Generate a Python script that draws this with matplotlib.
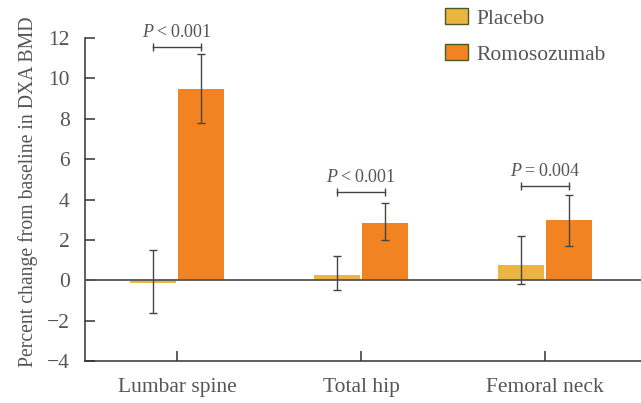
import matplotlib
matplotlib.use("Agg")
import matplotlib.pyplot as plt
import numpy as np
from matplotlib.patches import Patch

sites = ["Lumbar spine", "Total hip", "Femoral neck"]
placebo = [-0.12, 0.28, 0.78]
placebo_lo = [-1.6, -0.46, -0.18]
placebo_hi = [1.5, 1.19, 2.18]
romo = [9.49, 2.86, 3.0]
romo_lo = [7.79, 2.01, 1.68]
romo_hi = [11.2, 3.81, 4.2]
p_labels = ["<0.001", "<0.001", "=0.004"]
bracket_y = [11.57, 4.35, 4.68]

plt.rcParams["font.family"] = ["Liberation Serif", "DejaVu Serif"]
plt.rcParams["mathtext.fontset"] = "custom"
plt.rcParams["mathtext.rm"] = "Liberation Serif"
plt.rcParams["mathtext.it"] = "Liberation Serif:italic"
TXT = "#555555"
C_PLA = "#ECB441"
C_ROMO = "#F28322"
ERR = "#444444"

fig = plt.figure(figsize=(6.41, 4.03), dpi=100)
ax = fig.add_axes([0.1326, 0.1042, 0.8674, 0.8015])

x = np.arange(len(sites))
w = 0.25
off = 0.13

pla = np.array(placebo)
rom = np.array(romo)
pla_err = [pla - np.array(placebo_lo), np.array(placebo_hi) - pla]
rom_err = [rom - np.array(romo_lo), np.array(romo_hi) - rom]

ax.bar(x - off, pla, w, color=C_PLA, zorder=2)
ax.bar(x + off, rom, w, color=C_ROMO, zorder=2)
ax.axhline(0, color="#555555", lw=1.3, zorder=3)
ax.errorbar(x - off, pla, yerr=pla_err, fmt="none", ecolor=ERR, elinewidth=1.0,
            capsize=2.6, capthick=1.0, zorder=4)
ax.errorbar(x + off, rom, yerr=rom_err, fmt="none", ecolor=ERR, elinewidth=1.0,
            capsize=2.6, capthick=1.0, zorder=4)

# significance brackets between the two bars of each site
for i, (lab, by) in enumerate(zip(p_labels, bracket_y)):
    x0, x1 = i - off, i + off
    ax.plot([x0, x1], [by, by], color=ERR, lw=1.0)
    ax.plot([x0, x1], [by, by], ls="none", marker="|", ms=6, mew=1.0, color=ERR)
    sym = "$\\it{P}$\u2009" + lab[0] + "\u2009" + lab[1:]
    ax.text(i, by + 0.3, sym, ha="center", va="bottom",
            fontsize=13, color=TXT)

ax.set_xlim(-0.5, 2.52)
ax.set_ylim(-4, 12)
ax.set_yticks(range(-4, 13, 2))
ax.set_xticks(x)
ax.set_xticklabels(sites)
ax.set_yticklabels(["\u22124", "\u22122", "0", "2", "4", "6", "8", "10", "12"])
ax.tick_params(direction="in", length=7, width=1.1, color="#333333",
               labelsize=15.5, labelcolor=TXT, pad=11)
ax.tick_params(axis="x", pad=12)
for s in ("top", "right"):
    ax.spines[s].set_visible(False)
for s in ("left", "bottom"):
    ax.spines[s].set_color("#333333")
    ax.spines[s].set_linewidth(1.1)

ax.set_ylabel("Percent change from baseline in DXA BMD", fontsize=14.2,
              color=TXT)
ax.yaxis.set_label_coords(-0.085, 0.523)

handles = [Patch(facecolor=C_PLA, edgecolor="#4B5A1E", lw=1.0, label="Placebo"),
           Patch(facecolor=C_ROMO, edgecolor="#4B5A1E", lw=1.0, label="Romosozumab")]
leg = fig.legend(handles=handles, loc="upper left",
                 bbox_to_anchor=(445 / 641, 1 - 8 / 403), frameon=False,
                 fontsize=15.5, handlelength=1.07, handleheight=0.8,
                 handletextpad=0.4, borderpad=0, borderaxespad=0,
                 labelspacing=0.7)
for t in leg.get_texts():
    t.set_color(TXT)

fig.savefig("out.png", dpi=100)
